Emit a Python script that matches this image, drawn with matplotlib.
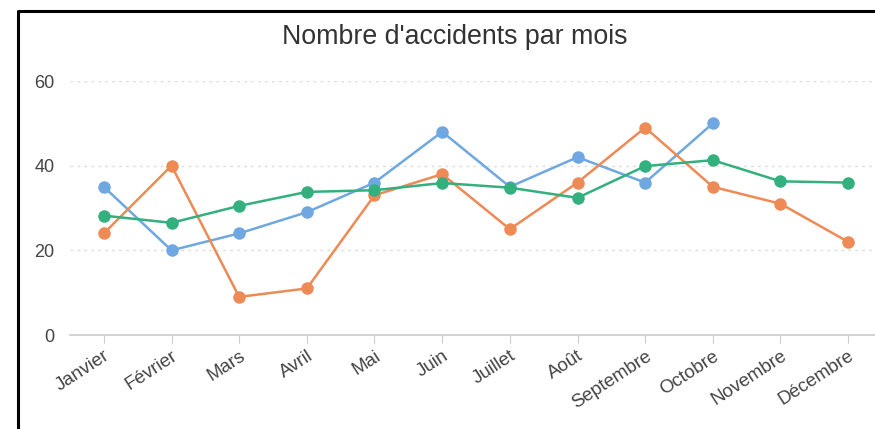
import matplotlib.pyplot as plt
from matplotlib.lines import Line2D
import numpy as np

months = ["Janvier", "Février", "Mars", "Avril", "Mai", "Juin", "Juillet",
          "Août", "Septembre", "Octobre", "Novembre", "Décembre"]

serie_bleue = [35, 20, 24, 29, 36, 48, 35, 42, 36, 50, np.nan, np.nan]
serie_orange = [24, 40, 9, 11, 33, 38, 25, 36, 49, 35, 31, 22]
serie_verte = [28.2, 26.5, 30.5, 33.8, 34.2, 35.9, 34.8, 32.4, 39.9, 41.3, 36.3, 36.0]

W, H = 875, 429
fig = plt.figure(figsize=(W / 100, H / 100), dpi=100)
plt.rcParams["font.family"] = ["Liberation Sans", "DejaVu Sans"]

# axes placed in pixel terms
x0, x1 = 70, 882
y0, y1 = 335, 81
ax = fig.add_axes([x0 / W, 1 - y0 / H, (x1 - x0) / W, (y0 - y1) / H])

x = np.arange(len(months))
styles = [(serie_bleue, "#6fa8e0"), (serie_orange, "#ee8a55"), (serie_verte, "#33b07e")]
for vals, col in styles:
    ax.plot(x, vals, color=col, linewidth=1.8, marker="o", markersize=9,
            markeredgewidth=0, solid_capstyle="round", clip_on=False)

ax.set_xlim(-0.5, 11.5)
ax.set_ylim(0, 60)
ax.set_yticks([0, 20, 40, 60])
ax.set_xticks(x)
ax.set_xticklabels(months, rotation=33, ha="right", rotation_mode="anchor")

for s in ["top", "right", "left"]:
    ax.spines[s].set_visible(False)
ax.spines["bottom"].set_color("#cccccc")
ax.spines["bottom"].set_linewidth(1.2)

ax.tick_params(axis="x", length=6, color="#cccccc", labelsize=13.5, labelcolor="#444444", pad=3)
ax.tick_params(axis="y", length=0, labelsize=13, labelcolor="#444444", pad=11)

for v in [20, 40, 60]:
    ax.axhline(v, color="#dddddd", linewidth=1, linestyle=(0, (2, 3)), zorder=0)

fig.text(455 / W, 1 - 37 / H, "Nombre d'accidents par mois", ha="center", va="center",
         fontsize=19.3, color="#333333")

# frame around chart (left and top edges)
fig.add_artist(Line2D([18 / W, 18 / W, 1.0], [0, 1 - 11 / H, 1 - 11 / H],
                      transform=fig.transFigure, color="black", linewidth=2.2))

fig.savefig("out.png", dpi=100)
